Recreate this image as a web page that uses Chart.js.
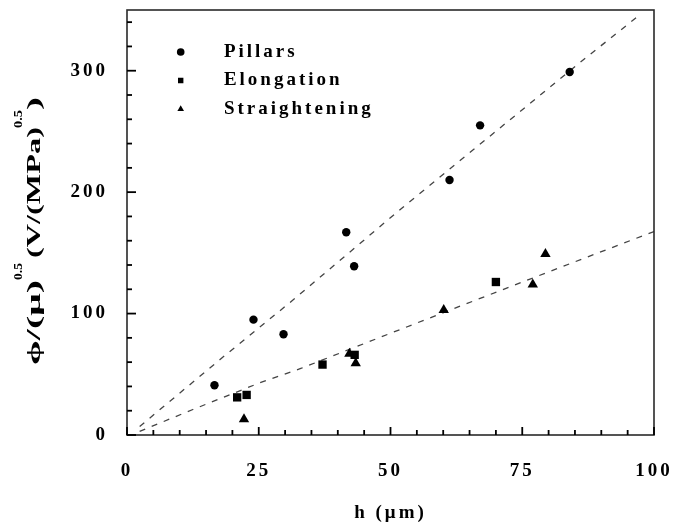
<!DOCTYPE html>
<html><head><meta charset="utf-8">
<script src="https://cdn.jsdelivr.net/npm/chart.js@4.4.1/dist/chart.umd.min.js"></script>
<style>html,body{margin:0;padding:0;background:#fff}#wrap{width:673px;height:529px;position:relative}</style>
</head><body><div id="wrap"><canvas id="c"></canvas></div>
<script>
// ---- data ----
const seriesNames = ['Pillars', 'Elongation', 'Straightening'];
const pillarsX = [16.6, 24.0, 29.7, 41.6, 43.1, 61.2, 67.0, 84.0];
const pillarsY = [41, 95, 83, 167, 139, 210, 255, 299];
const elongX = [20.9, 22.7, 37.1, 43.2, 70.0];
const elongY = [31, 33, 58, 66, 126];
const straightX = [22.2, 42.2, 43.4, 60.1, 77.0, 79.4];
const straightY = [13, 67, 59, 103, 124, 149];
const fitUpperX = [2.4, 17.6, 30.9, 52.2, 86.6, 97.3];
const fitUpperY = [7, 62, 109, 187, 309, 346];
const fitLowerX = [2.4, 12.5, 25.2, 33.1, 51.9, 67.0, 82.2, 100];
const fitLowerY = [3, 21, 43, 55, 87, 112.5, 138, 167.6];
const xTickLabels = [0, 25, 50, 75, 100];
const yTickLabels = [0, 100, 200, 300];
const xMinorTicks = [0, 5, 10, 15, 20, 25, 30, 35, 40, 45, 50, 55, 60, 65, 70, 75, 80, 85, 90, 95, 100];
const yMinorTicks = [0, 20, 40, 60, 80, 100, 120, 140, 160, 180, 200, 220, 240, 260, 280, 300, 320, 340];
const xAxisTitle = 'h (\u03bcm)';
const yTitleParts = ['\u03d5/(\u03bc)', '0.5', '(V/(MPa)', '0.5', ')'];

const pts = (xs, ys) => xs.map((x, i) => ({x, y: ys[i]}));

// layout of the y-title pieces (page px): from/to along the axis, baseline x, font size
const yTitleLayout = [
  {from: 365, to: 280, base: 40, size: 18},
  {from: 280, to: 263, base: 22, size: 13},
  {from: 258, to: 127, base: 40, size: 18},
  {from: 128, to: 110, base: 22, size: 13},
  {from: 110, to: 97, base: 40, size: 18}
];

const FONT = 'Liberation Serif';
Chart.defaults.font.family = FONT;
Chart.defaults.font.size = 19;
Chart.defaults.font.weight = 'bold';
Chart.defaults.color = '#000';

const spacingPlugin = {
  id: 'spacing',
  beforeUpdate(c) { c.ctx.letterSpacing = '3px'; },
  beforeLayout(c) { c.ctx.letterSpacing = '3px'; },
  beforeDraw(c) { c.ctx.letterSpacing = '3px'; }
};
const legendPosPlugin = {
  id: 'legendPos',
  afterLayout(c) {
    const lg = c.legend; if (!lg) return;
    const w = lg.width, h = lg.height;
    lg.left = 168.5; lg.top = 33; lg.right = lg.left + w; lg.bottom = lg.top + h;
  }
};
const yTitlePlugin = {
  id: 'ytitle',
  afterDraw(c) {
    const ctx = c.ctx;
    ctx.save();
    ctx.letterSpacing = '0px';
    ctx.fillStyle = '#000'; ctx.textAlign = 'left'; ctx.textBaseline = 'alphabetic';
    yTitleParts.forEach((t, i) => {
      const p = yTitleLayout[i];
      ctx.save();
      ctx.font = 'bold ' + p.size + 'px "' + FONT + '"';
      const w = ctx.measureText(t).width;
      ctx.translate(p.base, p.from);
      ctx.rotate(-Math.PI / 2);
      ctx.scale((p.from - p.to) / w, 1);
      ctx.fillText(t, 0, 0);
      ctx.restore();
    });
    ctx.restore();
  }
};
// frame + inward tick marks placed through the library's scales
const framePlugin = {
  id: 'frame',
  afterDraw(c) {
    const a = c.chartArea, ctx = c.ctx;
    const xs = c.scales.x, ys = c.scales.y;
    ctx.save();
    ctx.setLineDash([]);
    ctx.strokeStyle = '#2a2a2a'; ctx.lineWidth = 1.6;
    ctx.strokeRect(a.left, a.top, a.right - a.left, a.bottom - a.top);
    ctx.strokeStyle = '#000'; ctx.lineWidth = 1.8;
    xMinorTicks.forEach(v => {
      const px = xs.getPixelForValue(v);
      const len = xTickLabels.includes(v) ? 8 : 5;
      ctx.beginPath(); ctx.moveTo(px, a.bottom); ctx.lineTo(px, a.bottom - len); ctx.stroke();
    });
    yMinorTicks.forEach(v => {
      const py = ys.getPixelForValue(v);
      const len = yTickLabels.includes(v) ? 9 : 5;
      ctx.beginPath(); ctx.moveTo(a.left, py); ctx.lineTo(a.left + len, py); ctx.stroke();
    });
    ctx.restore();
  }
};

const markerCommon = {backgroundColor: '#000', borderColor: '#000', borderWidth: 0, showLine: false};
const fitCommon = {showLine: true, pointRadius: 0, borderColor: '#444', borderWidth: 1.3, borderDash: [6, 7], fill: false, tension: 0};

new Chart(document.getElementById('c'), {
  type: 'scatter',
  data: {
    datasets: [
      Object.assign({label: seriesNames[0], data: pts(pillarsX, pillarsY), pointStyle: 'circle', pointRadius: 4.2}, markerCommon),
      Object.assign({label: seriesNames[1], data: pts(elongX, elongY), pointStyle: 'rect', pointRadius: 5.9}, markerCommon),
      Object.assign({label: seriesNames[2], data: pts(straightX, straightY), pointStyle: 'triangle', pointRadius: 6}, markerCommon),
      Object.assign({label: 'fit1', data: pts(fitUpperX, fitUpperY)}, fitCommon),
      Object.assign({label: 'fit2', data: pts(fitLowerX, fitLowerY)}, fitCommon)
    ]
  },
  options: {
    responsive: true, maintainAspectRatio: false, animation: false,
    layout: {padding: {top: 10, right: 19, left: 0, bottom: 0}},
    plugins: {
      tooltip: {enabled: false},
      legend: {
        position: 'chartArea', align: 'start',
        labels: {
          usePointStyle: true, boxWidth: 5.4, boxHeight: 5.4, padding: 9.5,
          font: {size: 19, weight: 'bold', family: FONT}, color: '#000',
          generateLabels(chart) {
            return Chart.defaults.plugins.legend.labels.generateLabels(chart)
              .filter(l => l.datasetIndex < 3)
              .map(l => Object.assign(l, {text: '    ' + l.text, lineWidth: 0}));
          }
        }
      }
    },
    scales: {
      x: {
        type: 'linear', min: 0, max: 100,
        border: {display: false},
        grid: {display: false},
        ticks: {
          stepSize: 5, padding: 17, maxRotation: 0, autoSkip: false,
          callback: (v) => xTickLabels.includes(v) ? String(v) : ''
        },
        title: {display: true, text: xAxisTitle, padding: {top: 0, bottom: 4.6}, font: {size: 19, weight: 'bold', family: FONT}},
        afterFit(s) { s.height = 94; s.paddingLeft = 0; s.paddingRight = 0; }
      },
      y: {
        type: 'linear', min: 0, max: 350,
        border: {display: false},
        grid: {display: false},
        ticks: {
          stepSize: 20, padding: 11, autoSkip: false,
          callback: (v) => yTickLabels.includes(v) ? String(v) : ''
        },
        title: {display: false},
        afterFit(s) { s.width = 127; s.paddingTop = 0; s.paddingBottom = 0; }
      }
    }
  },
  plugins: [spacingPlugin, legendPosPlugin, yTitlePlugin, framePlugin]
});
</script>
</body></html>
